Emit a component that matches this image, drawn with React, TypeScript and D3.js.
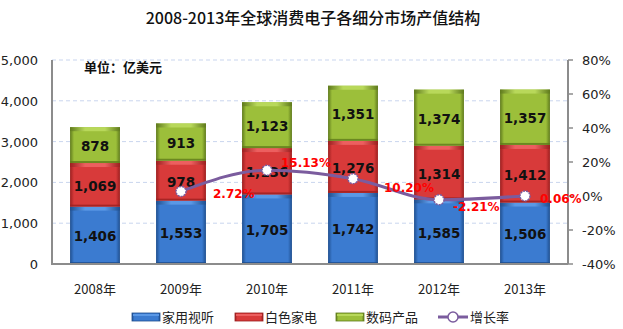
import React from "react";
import * as d3 from "d3";

const years = ["2008年", "2009年", "2010年", "2011年", "2012年", "2013年"];
const avValues = [1406, 1553, 1705, 1742, 1585, 1506];
const whiteValues = [1069, 978, 1136, 1276, 1314, 1412];
const digitalValues = [878, 913, 1123, 1351, 1374, 1357];
const growthRates = [null, 2.72, 15.13, 10.2, -2.21, 0.06];
const growthLabels = ["", "2.72%", "15.13%", "10.20%", "-2.21%", "0.06%"];
const leftTicks = [0, 1000, 2000, 3000, 4000, 5000];
const rightTicks = [-40, -20, 0, 20, 40, 60, 80];
const seriesNames = ["家用视听", "白色家电", "数码产品", "增长率"];

const W = 623, H = 329;
const m = { left: 52, right: 568, top: 60, bottom: 264 };
const cjk = "'Noto Sans CJK SC', 'DejaVu Sans', sans-serif";
const num = "'DejaVu Sans', Verdana, sans-serif";

const colors = [
  { id: "gBlue", dark: "#1f4f8f", mid: "#3b7bd0", light: "#5a98e6" },
  { id: "gRed", dark: "#9c1f1f", mid: "#d83a3a", light: "#ec5f5f" },
  { id: "gGreen", dark: "#5f7a1c", mid: "#9cbf3a", light: "#b8d85a" },
];
const lineColor = "#7b5c9e";
// label offsets relative to points (layout)
const labelOffsets = [[0, 0], [32, 2], [14, -8], [31, 8], [14, 6], [15, 2]];

export default function App() {
  const x = d3.scaleBand().domain(years).range([m.left, m.right]).paddingInner(0.42).paddingOuter(0.21);
  const y = d3.scaleLinear().domain([0, 5000]).range([m.bottom, m.top]);
  const y2 = d3.scaleLinear().domain([-40, 80]).range([m.bottom, m.top]);
  const stackData = years.map((yr, i) => ({ yr, a: avValues[i], b: whiteValues[i], c: digitalValues[i] }));
  const stack = d3.stack<any>().keys(["a", "b", "c"])(stackData);
  const fmt = d3.format(",");
  const pts = years
    .map((yr, i) => ({ yr, v: growthRates[i], i }))
    .filter((d) => d.v !== null) as { yr: string; v: number; i: number }[];
  const line = d3
    .line<{ yr: string; v: number }>()
    .x((d) => (x(d.yr) as number) + x.bandwidth() / 2)
    .y((d) => y2(d.v))
    .curve(d3.curveMonotoneX);

  return (
    <svg width={W} height={H} style={{ position: "absolute", left: 0, top: 0, background: "#fff" }}>
      <defs>
        {colors.map((c) => (
          <linearGradient key={c.id} id={c.id} x1="0" x2="1" y1="0" y2="0">
            <stop offset="0" stopColor={c.dark} />
            <stop offset="0.08" stopColor={c.mid} />
            <stop offset="0.5" stopColor={c.mid} />
            <stop offset="0.92" stopColor={c.mid} />
            <stop offset="1" stopColor={c.dark} />
          </linearGradient>
        ))}
        {colors.map((c) => (
          <linearGradient key={c.id + "L"} id={c.id + "L"} x1="0" x2="1" y1="0" y2="0">
            <stop offset="0" stopColor={c.dark} />
            <stop offset="0.3" stopColor={c.light} />
            <stop offset="0.7" stopColor={c.light} />
            <stop offset="1" stopColor={c.dark} />
          </linearGradient>
        ))}
      </defs>
      <text x={313} y={24} textAnchor="middle" fontFamily={cjk} fontSize={16} fontWeight={500} fill="#111">
        2008-2013年全球消费电子各细分市场产值结构
      </text>
      {leftTicks.slice(1).map((t) => (
        <line key={t} x1={m.left} x2={m.right} y1={y(t)} y2={y(t)} stroke="#c9d5ee" strokeDasharray="4,3" />
      ))}
      {stack.map((s, si) =>
        s.map((d, i) => {
          const bx = x(years[i]) as number;
          const bw = x.bandwidth();
          const y0 = y(d[1]);
          const h = y(d[0]) - y(d[1]);
          const c = colors[si];
          return (
            <g key={si + "-" + i}>
              <rect x={bx} y={y0} width={bw} height={h} fill={`url(#${c.id})`} />
              <rect x={bx} y={y0} width={bw} height={4} fill={`url(#${c.id}L)`} />
              <rect x={bx} y={y0 + h - 2} width={bw} height={2} fill={c.dark} opacity={0.8} />
              <text
                x={bx + bw / 2}
                y={y0 + h / 2 + 6}
                textAnchor="middle"
                fontFamily={num}
                fontWeight="bold"
                fontSize={13.5}
                fill="#111"
              >
                {fmt(d.data[["a", "b", "c"][si]])}
              </text>
            </g>
          );
        })
      )}
      {/* axes */}
      <line x1={m.left} x2={m.left} y1={m.top} y2={m.bottom} stroke="#8c8c8c" strokeWidth={2} />
      <line x1={m.left - 1} x2={m.right} y1={m.bottom} y2={m.bottom} stroke="#8c8c8c" strokeWidth={2} />
      <line x1={m.right} x2={m.right} y1={m.top} y2={m.bottom} stroke="#8c8c8c" strokeWidth={2} />
      {leftTicks.map((t) => (
        <text key={t} x={38} y={y(t) + 5} textAnchor="end" fontFamily={num} fontSize={13} fill="#222">
          {fmt(t)}
        </text>
      ))}
      {rightTicks.map((t) => (
        <g key={t}>
          <line x1={m.right} x2={m.right + 5} y1={y2(t)} y2={y2(t)} stroke="#8c8c8c" strokeWidth={1.5} />
          <text x={582} y={y2(t) + 5} fontFamily={num} fontSize={13} fill="#222">
            {t + "%"}
          </text>
        </g>
      ))}
      {years.map((yr) => (
        <text
          key={yr}
          x={(x(yr) as number) + x.bandwidth() / 2}
          y={294}
          textAnchor="middle"
          fontFamily={cjk}
          fontSize={13}
          fill="#222"
        >
          {yr}
        </text>
      ))}
      <text x={84} y={72} fontFamily={cjk} fontSize={13} fontWeight="bold" fill="#111">
        单位：亿美元
      </text>
      {/* growth line */}
      <path d={line(pts) as string} fill="none" stroke={lineColor} strokeWidth={3} />
      {pts.map((p) => {
        const cx = (x(p.yr) as number) + x.bandwidth() / 2;
        const cy = y2(p.v);
        const off = labelOffsets[p.i];
        return (
          <g key={p.yr}>
            <circle cx={cx} cy={cy} r={5} fill="#fff" stroke={lineColor} strokeWidth={1.5} strokeDasharray="2,1" />
            <text
              x={cx + off[0]}
              y={cy + off[1] + 5}
              fontFamily={num}
              fontSize={12}
              fontWeight="bold"
              fill="#ff0000"
            >
              {growthLabels[p.i]}
            </text>
          </g>
        );
      })}
      {/* legend */}
      {[132, 235, 336].map((lx, i) => (
        <g key={i}>
          <rect x={lx} y={313} width={28} height={8} fill={`url(#${colors[i].id})`} stroke={colors[i].dark} strokeWidth={0.8} />
          <rect x={lx + 1} y={314} width={26} height={2} fill={colors[i].light} />
          <text x={lx + 30} y={322} fontFamily={cjk} fontSize={13} fill="#222">
            {seriesNames[i]}
          </text>
        </g>
      ))}
      <line x1={438} x2={468} y1={317} y2={317} stroke={lineColor} strokeWidth={3} />
      <circle cx={453} cy={317} r={5} fill="#fff" stroke={lineColor} strokeWidth={1.5} />
      <text x={470} y={322} fontFamily={cjk} fontSize={13} fill="#222">
        {seriesNames[3]}
      </text>
    </svg>
  );
}
